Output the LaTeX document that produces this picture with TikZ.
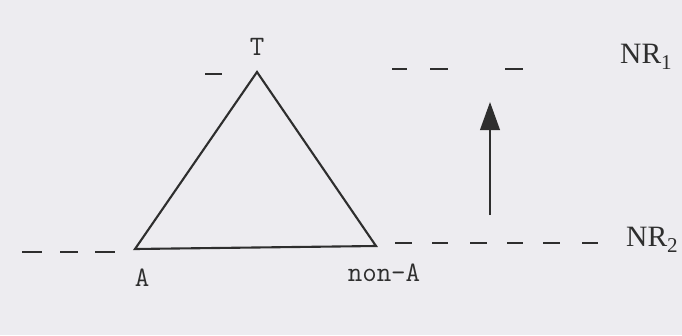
\documentclass[tikz,border=0pt]{standalone}
\usepackage{fontspec}
\usepackage{xcolor}
\usetikzlibrary{arrows.meta,positioning}
\setmainfont{Liberation Serif}
\definecolor{paper}{HTML}{EDECF0}
\definecolor{ink}{HTML}{2E2E2E}
\newcommand{\nrsub}[1]{\raisebox{-4pt}{\fontsize{15}{15}\selectfont #1}}

\begin{document}
\begin{tikzpicture}[x=0.025cm,y=-0.025cm,
  edge/.style={draw=ink,line width=1.5pt},
  level/.style={draw=ink,line width=1.5pt},
  corner/.style={text=ink,font=\ttfamily\fontsize{20}{22}\selectfont,inner sep=0pt},
  nrlabel/.style={text=ink,font=\fontsize{21}{23}\selectfont,inner sep=0pt}]
\useasboundingbox[fill=paper] (0,0) rectangle (682,335);

% Triangle
\coordinate (T) at (257,72);
\coordinate (A) at (135,249);
\coordinate (nA) at (376,246);
\draw[edge,line join=miter] (T) -- (A) -- (nA) -- cycle;
\node[corner] (lt) at (257,47) {T};
\node[corner] (la) at (142,278) {A};
\node[corner] (lna) at (384,273) {non-A};

% Levels
\coordinate (d0a) at (205,74);
\coordinate (d0b) at (222,74);
\draw[level] (d0a) -- (d0b);
\foreach \xa/\xb in {392/407,430/448,505/523}
  \draw[level] (\xa,69) -- (\xb,69);
\foreach \xa/\xb in {22/42,60/78,95/115}
  \draw[level] (\xa,252) -- (\xb,252);
\foreach \xa/\xb in {395/412,432/448,470/487,507/523,543/560,582/598}
  \draw[level] (\xa,243) -- (\xb,243);
\node[nrlabel] (nr1) at (646,57) {NR\nrsub{1}};
\node[nrlabel] (nr2) at (652,240) {NR\nrsub{2}};

% Shift upwards
\coordinate (up0) at (490,215);
\coordinate (up1) at (490,102);
\draw[draw=ink,line width=1.5pt,-{Triangle[length=20pt,width=14pt]}] (up0) -- (up1);

\end{tikzpicture}
\end{document}
